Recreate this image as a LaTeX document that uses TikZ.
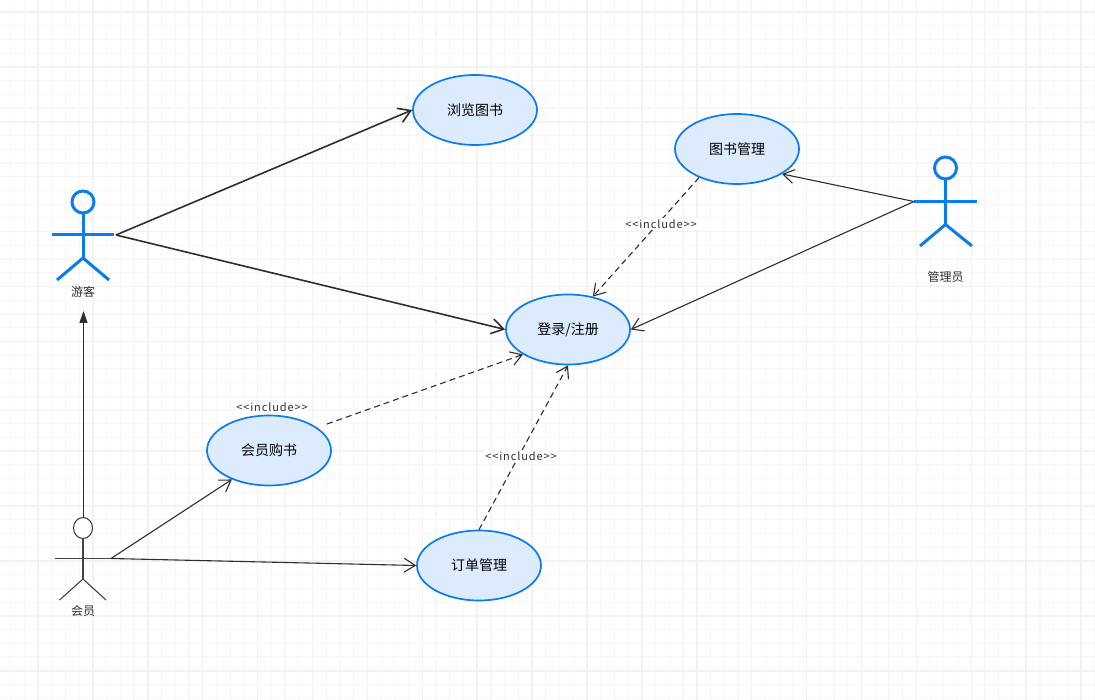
\documentclass[tikz,border=0pt]{standalone}
\usepackage{fontspec}
\setmainfont{Noto Sans CJK SC}
\newfontfamily\inclfont[LetterSpace=8]{Noto Sans CJK SC}
\usetikzlibrary{arrows.meta,shapes.geometric}
\definecolor{ucblue}{HTML}{0A7CEB}
\definecolor{ucfill}{HTML}{DDEBFF}
\definecolor{inkdark}{HTML}{2E2E2E}
\definecolor{inkgrey}{HTML}{3F444A}
\definecolor{gridminor}{HTML}{F7F7F7}
\definecolor{gridmajor}{HTML}{F2F2F2}
\tikzset{
  usecase/.style={ellipse,draw=ucblue,fill=ucfill,line width=1.7pt,minimum width=124pt,minimum height=70pt,inner sep=0pt,text=black,font=\fontsize{14}{16}\selectfont},
  actorlabel/.style={text=inkdark,font=\fontsize{12}{14}\selectfont,inner sep=0pt},
  inclabel/.style={fill=white,inner sep=1.5pt,text=inkdark,font=\fontsize{11}{13}\selectfont\inclfont},
  actorblue/.style={draw=ucblue,line width=3pt},
  actordark/.style={draw=inkgrey,line width=1.1pt},
  assoc/.style={draw=inkdark,line width=1.1pt,-{Straight Barb[length=11pt,width=14pt,line width=1.1pt]}},
  assocthick/.style={assoc,line width=1.6pt,-{Straight Barb[length=12pt,width=15pt,line width=1.6pt]}},
  incl/.style={assoc,dashed,dash pattern=on 6pt off 4pt,-{Straight Barb[length=11pt,width=14pt,line width=1.1pt]}},
  genarrow/.style={draw=inkdark,line width=1.2pt,-{Triangle[length=12pt,width=8pt]}}
}
\begin{document}
\begin{tikzpicture}[x=1pt,y=-1pt]
\useasboundingbox (0,0) rectangle (1095,700);
%background grid
\fill[white] (0,0) rectangle (1095,700);
\foreach \i in {0,...,79} {
  \draw[gridminor,line width=1.2pt] ({10.55+13.725*\i},0) -- ({10.55+13.725*\i},700);
}
\foreach \i in {0,...,50} {
  \draw[gridminor,line width=1.2pt] (0,{12+13.725*\i}) -- (1095,{12+13.725*\i});
}
\foreach \i in {0,...,19} {
  \draw[gridmajor,line width=1.5pt] ({38+54.9*\i},0) -- ({38+54.9*\i},700);
}
\foreach \i in {0,...,12} {
  \draw[gridmajor,line width=1.5pt] (0,{12+54.9*\i}) -- (1095,{12+54.9*\i});
}
% use cases
\node[usecase] (browse) at (475,110) {浏览图书};
\node[usecase] (bookmgr) at (737,149) {图书管理};
\node[usecase] (login) at (568,329.5) {登录/注册};
\node[usecase] (buy) at (269,450.5) {会员购书};
\node[usecase] (order) at (479,565.5) {订单管理};
% visitor
\draw[actorblue] (83,202) circle (11);
\draw[actorblue] (83,213) -- (83,258);
\draw[actorblue] (52,235) -- (114,235);
\draw[actorblue] (57,280) -- (83,258) -- (109,280);
\node[actorlabel] (visitorlabel) at (83,292) {游客};
\coordinate (visitor) at (116,235);
% admin
\draw[actorblue] (945.5,168) circle (11);
\draw[actorblue] (945.5,179) -- (945.5,224.5);
\draw[actorblue] (914,201.5) -- (977,201.5);
\draw[actorblue] (920,246) -- (945.5,224.5) -- (972,246);
\node[actorlabel] (adminlabel) at (945.5,277) {管理员};
\coordinate (admin) at (914,201.5);
% member
\draw[actordark,fill=white] (83,528) ellipse (9.5 and 10.5);
\draw[actordark] (83,538.5) -- (83,579);
\draw[actordark] (55,558.5) -- (111,558.5);
\draw[actordark] (59.5,600) -- (83,579) -- (106,600);
\node[actorlabel] (memberlabel) at (83,611) {会员};
\coordinate (member) at (111,558.5);
\coordinate (memberhead) at (83.5,517.5);
\coordinate (visitorfoot) at (83.5,311);
\coordinate (buyout) at (327,424);
% connectors
\draw[assocthick] (visitor) -- (browse.west);
\draw[assocthick] (visitor) -- (login.west);
\draw[genarrow] (memberhead) -- (visitorfoot);
\draw[assoc] (member) -- (buy.-142);
\draw[assoc] (member) -- (order.west);
\draw[assoc] (admin) -- (bookmgr.-29);
\draw[assoc] (admin) -- (login.east);
\draw[incl] (buyout) -- (login.-151);
\draw[incl] (order.north) -- (login.south);
\draw[incl] (bookmgr.-143) -- (login.53);
% labels
\node[inclabel] (inclbuy) at (272,407) {<{}<include>{}>};
\node[inclabel] (inclorder) at (521,456) {<{}<include>{}>};
\node[inclabel] (inclmgr) at (661,224) {<{}<include>{}>};
\end{tikzpicture}
\end{document}
